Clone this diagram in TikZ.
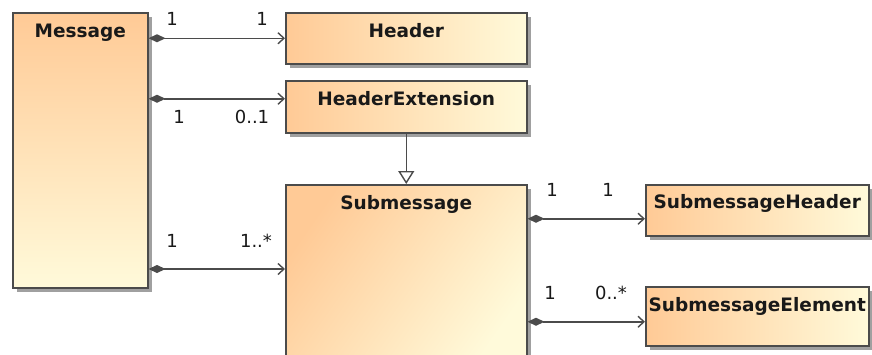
\documentclass[tikz,border=0pt]{standalone}
\usepackage{fontspec}
\setmainfont{DejaVu Sans}
\usetikzlibrary{arrows.meta,shadows}
\definecolor{umlorange}{RGB}{255,202,150}
\definecolor{umlpale}{RGB}{255,250,218}
\definecolor{umlline}{RGB}{75,75,75}
\definecolor{umlshadow}{RGB}{160,160,160}
\tikzset{
  classbox/.style={draw=umlline, line width=1.5pt, inner sep=0pt, anchor=north west,
    drop shadow={shadow xshift=4.5pt, shadow yshift=-4.5pt, fill=umlshadow, opacity=1}},
  hgrad/.style={left color=umlorange, right color=umlpale},
  vgrad/.style={top color=umlorange, bottom color=umlpale},
  dgrad/.style={left color=umlorange, right color=umlpale, shading angle=55},
  classtitle/.style={anchor=base, inner sep=0pt, font=\fontsize{18.5}{21}\selectfont\bfseries, text=black!90},
  mult/.style={anchor=base, inner sep=0pt, font=\fontsize{18}{21}\selectfont, text=black!90},
  comp/.style={draw=umlline, line width=1.5pt,
    {Diamond[length=17pt,width=8pt,fill=umlline]}-{Straight Barb[length=6pt,width=11pt,line width=1.4pt]}},
  inherit/.style={draw=umlline, line width=1.5pt,
    -{Triangle[open,length=13pt,width=16pt,fill=white,line width=1.4pt]}}
}
\begin{document}
\begin{tikzpicture}[x=1pt,y=-1pt]
\useasboundingbox (0,0) rectangle (872,354);
% class boxes
\node[classbox, vgrad, minimum width=135pt, minimum height=275pt] (msg) at (12,12) {};
\node[classbox, hgrad, minimum width=241pt, minimum height=51pt] (hdr) at (285,12) {};
\node[classbox, hgrad, minimum width=241pt, minimum height=52pt] (hext) at (285,80) {};
\node[classbox, dgrad, minimum width=241pt, minimum height=180pt] (sub) at (285,184) {};
\node[classbox, hgrad, minimum width=223pt, minimum height=51pt] (shdr) at (645,184) {};
\node[classbox, hgrad, minimum width=223pt, minimum height=59pt] (selem) at (645,286) {};
% titles
\node[classtitle] (msgT) at ([yshift=-25.5pt]msg.north) {Message};
\node[classtitle] (hdrT) at ([yshift=-25.5pt]hdr.north) {Header};
\node[classtitle] (hextT) at ([yshift=-25.5pt]hext.north) {HeaderExtension};
\node[classtitle] (subT) at ([yshift=-25pt]sub.north) {Submessage};
\node[classtitle] (shdrT) at ([yshift=-24pt]shdr.north) {SubmessageHeader};
\node[classtitle] (selemT) at ([yshift=-25pt]selem.north) {SubmessageElement};
% connectors
\draw[comp] (msg.east |- hdr.west) -- (hdr.west);
\draw[comp] ([yshift=8pt]msg.east |- hext.west) -- ([yshift=8pt]hext.west);
\coordinate (subin) at ([yshift=-85pt]sub.north west);
\draw[comp] (msg.east |- subin) -- (subin);
\draw[comp] ([yshift=-8.5pt]sub.east |- shdr.west) -- ([yshift=-8.5pt]shdr.west);
\draw[comp] ([yshift=-5.5pt]sub.east |- selem.west) -- ([yshift=-5.5pt]selem.west);
\draw[inherit] (hext.south) -- (sub.north);
% multiplicities
\node[mult] (m1) at (172,25) {1};
\node[mult] (m2) at (262,25) {1};
\node[mult] (m3) at (179,123) {1};
\node[mult] (m4) at (252,123) {0..1};
\node[mult] (m5) at (172,247) {1};
\node[mult] (m6) at (256,247) {1..*};
\node[mult] (m7) at (552,196) {1};
\node[mult] (m8) at (608,196) {1};
\node[mult] (m9) at (550,299) {1};
\node[mult] (m10) at (611,299) {0..*};
\end{tikzpicture}
\end{document}
